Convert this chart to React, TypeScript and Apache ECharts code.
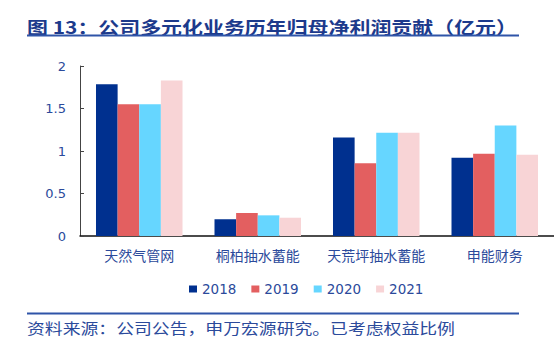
import React, { useEffect, useRef } from "react";
import * as echarts from "echarts";

const categories = ["天然气管网", "桐柏抽水蓄能", "天荒坪抽水蓄能", "申能财务"];
const seriesNames = ["2018", "2019", "2020", "2021"];
const values2018 = [1.785, 0.196, 1.16, 0.92];
const values2019 = [1.55, 0.27, 0.855, 0.968];
const values2020 = [1.55, 0.243, 1.215, 1.3];
const values2021 = [1.83, 0.215, 1.215, 0.956];
const yTicks = [0, 0.5, 1, 1.5, 2];
const titleText = "图 13：公司多元化业务历年归母净利润贡献（亿元）";
const footerText = "资料来源：公司公告，申万宏源研究。已考虑权益比例";

const colors = ["#00308F", "#E35F60", "#66D6FF", "#F8D4D6"];
const textBlue = "#2B4A9B";

export default function App() {
  const ref = useRef<HTMLDivElement>(null);
  useEffect(() => {
    if (!ref.current) return;
    const chart = echarts.init(ref.current, null, { renderer: "svg" });
    const allValues = [values2018, values2019, values2020, values2021];
    chart.setOption({
      animation: false,
      backgroundColor: "#ffffff",
      textStyle: { fontFamily: "'DejaVu Sans', 'Noto Sans CJK SC', sans-serif" },
      grid: { left: 80, top: 66, bottom: 113, width: 480 },
      legend: {
        data: seriesNames,
        left: 184,
        top: 277,
        itemWidth: 8,
        itemHeight: 7,
        itemGap: 15,
        icon: "rect",
        textStyle: { color: textBlue, fontSize: 13.5, fontFamily: "'DejaVu Sans', sans-serif" },
      },
      xAxis: {
        type: "category",
        data: categories,
        axisLine: { lineStyle: { color: "#111", width: 1.5 } },
        axisTick: { inside: true, length: 4, lineStyle: { color: "#111" } },
        axisLabel: {
          interval: 0,
          hideOverlap: false,
          color: textBlue,
          fontSize: 14,
          margin: 12,
          fontFamily: "'Noto Sans CJK SC', sans-serif",
        },
      },
      yAxis: {
        type: "value",
        min: yTicks[0],
        max: yTicks[yTicks.length - 1],
        interval: 0.5,
        splitLine: { show: false },
        axisLine: { show: true, lineStyle: { color: "#444", width: 1 } },
        axisTick: { show: true, inside: true, length: 4, lineStyle: { color: "#444" } },
        axisLabel: { color: textBlue, fontSize: 13, margin: 14, fontFamily: "'DejaVu Sans', sans-serif" },
      },
      series: seriesNames.map((name, i) => ({
        name,
        type: "bar",
        data: allValues[i],
        barGap: "0%",
        barCategoryGap: "27%",
        itemStyle: { color: colors[i] },
      })),
      graphic: [
        {
          type: "text",
          x: 27,
          y: 26,
          scaleX: 1.232,
          style: {
            text: titleText,
            fill: "#1C3A8C",
            fontSize: 17,
            fontWeight: "bold",
            fontFamily: "'Noto Sans CJK SC', sans-serif",
            textVerticalAlign: "middle",
            textAlign: "left",
          },
        },
        {
          type: "line",
          shape: { x1: 27, y1: 35.5, x2: 519, y2: 35.5 },
          style: { stroke: "#2F54A8", lineWidth: 2 },
        },
        {
          type: "line",
          shape: { x1: 27, y1: 313.5, x2: 519, y2: 313.5 },
          style: { stroke: "#2F54A8", lineWidth: 2 },
        },
        {
          type: "text",
          x: 27,
          y: 328,
          scaleX: 1.19,
          style: {
            text: footerText,
            fill: textBlue,
            fontSize: 15,
            fontFamily: "'Noto Sans CJK SC', sans-serif",
            textVerticalAlign: "middle",
            textAlign: "left",
          },
        },
      ],
    });
    return () => chart.dispose();
  }, []);
  return (
    <div
      ref={ref}
      style={{ position: "fixed", left: 0, top: 0, width: 554, height: 349, background: "#fff" }}
    />
  );
}
